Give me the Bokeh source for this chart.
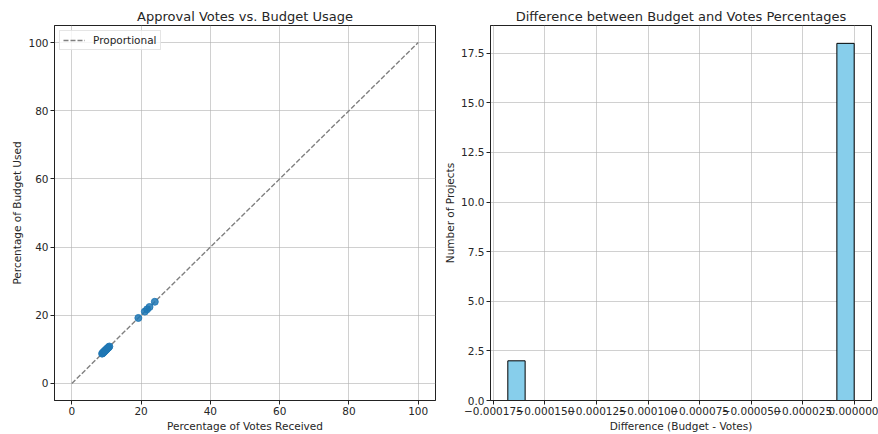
import numpy as np
from bokeh.plotting import figure
from bokeh.layouts import row
from bokeh.models import Range1d, FixedTicker, PrintfTickFormatter, CustomJSTickFormatter
from bokeh.embed import file_html
from bokeh.resources import INLINE

# Share of approval votes and of the budget received by each project (%)
votes_pct = [8.74, 8.92, 9.05, 9.18, 9.31, 9.44, 9.57, 9.69, 9.82, 9.96,
             10.11, 10.27, 10.45, 10.63, 10.84, 19.21, 21.08, 21.74, 22.43, 23.96]
budget_pct = [8.74, 8.92, 9.05, 9.179832, 9.31, 9.44, 9.57, 9.69, 9.82, 9.96,
              10.11, 10.27, 10.449832, 10.63, 10.84, 19.21, 21.08, 21.74, 22.43, 23.96]

proportional_x = [0, 100]
proportional_y = [0, 100]

pct_ticks = [0, 20, 40, 60, 80, 100]
count_ticks = [0.0, 2.5, 5.0, 7.5, 10.0, 12.5, 15.0, 17.5]
diff_ticks = [-0.000175, -0.000150, -0.000125, -0.000100, -0.000075, -0.000050, -0.000025, 0.0]

FONT = "DejaVu Sans"
TEXT = "#262626"
GRID = "#b0b0b0"


def style(p):
    p.background_fill_color = "white"
    p.border_fill_color = "white"
    p.outline_line_color = "#222222"
    p.outline_line_width = 1
    p.title.text_font = FONT
    p.title.text_font_size = "13px"
    p.title.text_font_style = "normal"
    p.title.text_color = TEXT
    p.title.align = "center"
    p.title.standoff = 3
    for ax in (p.xaxis, p.yaxis):
        ax.axis_line_color = "#222222"
        ax.major_tick_line_color = "#222222"
        ax.major_tick_out = 4
        ax.major_tick_in = 0
        ax.minor_tick_line_color = None
        ax.major_label_text_font = FONT
        ax.major_label_text_font_size = "10.5px"
        ax.major_label_text_color = TEXT
        ax.major_label_standoff = 2
        ax.axis_label_text_font = FONT
        ax.axis_label_text_font_size = "10.5px"
        ax.axis_label_text_font_style = "normal"
        ax.axis_label_text_color = TEXT
        ax.axis_label_standoff = 2
    for g in (p.xgrid, p.ygrid):
        g.grid_line_color = GRID
        g.grid_line_alpha = 0.6
        g.grid_line_width = 1


# Scatter: votes share against budget share
p1 = figure(width=439, height=434, output_backend="svg", toolbar_location=None,
            title="Approval Votes vs. Budget Usage",
            x_range=Range1d(-5, 105), y_range=Range1d(-5, 105),
            min_border_left=54, min_border_right=4, min_border_top=25, min_border_bottom=33)
style(p1)
p1.line(proportional_x, proportional_y, line_color="gray", line_width=1.4,
        line_dash="5 2", legend_label="Proportional")
p1.scatter(votes_pct, budget_pct, size=7, fill_color="#1f77b4", line_color="#1f77b4",
           fill_alpha=0.85, line_alpha=0.85)
p1.xaxis.ticker = FixedTicker(ticks=pct_ticks)
p1.yaxis.ticker = FixedTicker(ticks=pct_ticks)
p1.xaxis.axis_label = "Percentage of Votes Received"
p1.yaxis.axis_label = "Percentage of Budget Used"
p1.xgrid.ticker = FixedTicker(ticks=pct_ticks)
p1.ygrid.ticker = FixedTicker(ticks=pct_ticks)

lg = p1.legend[0]
lg.location = "top_left"
lg.margin = 5
lg.padding = 3
lg.spacing = 0
lg.glyph_width = 22
lg.glyph_height = 12
lg.label_standoff = 8
lg.label_text_font = FONT
lg.label_text_font_size = "10.5px"
lg.label_text_color = TEXT
lg.border_line_color = "#cccccc"
lg.border_line_width = 1
lg.background_fill_alpha = 0.8

# Histogram of budget minus votes differences
diff = np.array(budget_pct) - np.array(votes_pct)
counts, edges = np.histogram(diff, bins=20)
span = edges[-1] - edges[0]

p2 = figure(width=439, height=434, output_backend="svg", toolbar_location=None,
            title="Difference between Budget and Votes Percentages",
            x_range=Range1d(edges[0] - 0.05 * span, edges[-1] + 0.05 * span),
            y_range=Range1d(0, counts.max() * 1.05),
            min_border_left=51, min_border_right=7, min_border_top=25, min_border_bottom=33)
style(p2)
p2.quad(left=edges[:-1], right=edges[1:], bottom=0, top=counts,
        fill_color="#87ceeb", line_color="black", line_width=1)
p2.xaxis.ticker = FixedTicker(ticks=diff_ticks)
p2.xgrid.ticker = FixedTicker(ticks=diff_ticks)
p2.yaxis.ticker = FixedTicker(ticks=count_ticks)
p2.ygrid.ticker = FixedTicker(ticks=count_ticks)
p2.yaxis.formatter = PrintfTickFormatter(format="%.1f")
p2.xaxis.formatter = CustomJSTickFormatter(
    code="return (tick < -1e-12 ? '\u2212' : '') + Math.abs(tick).toFixed(6);")
p2.xaxis.axis_label = "Difference (Budget - Votes)"
p2.yaxis.axis_label = "Number of Projects"

layout = row(p1, p2)
open("out.html", "w").write(file_html(layout, INLINE))
